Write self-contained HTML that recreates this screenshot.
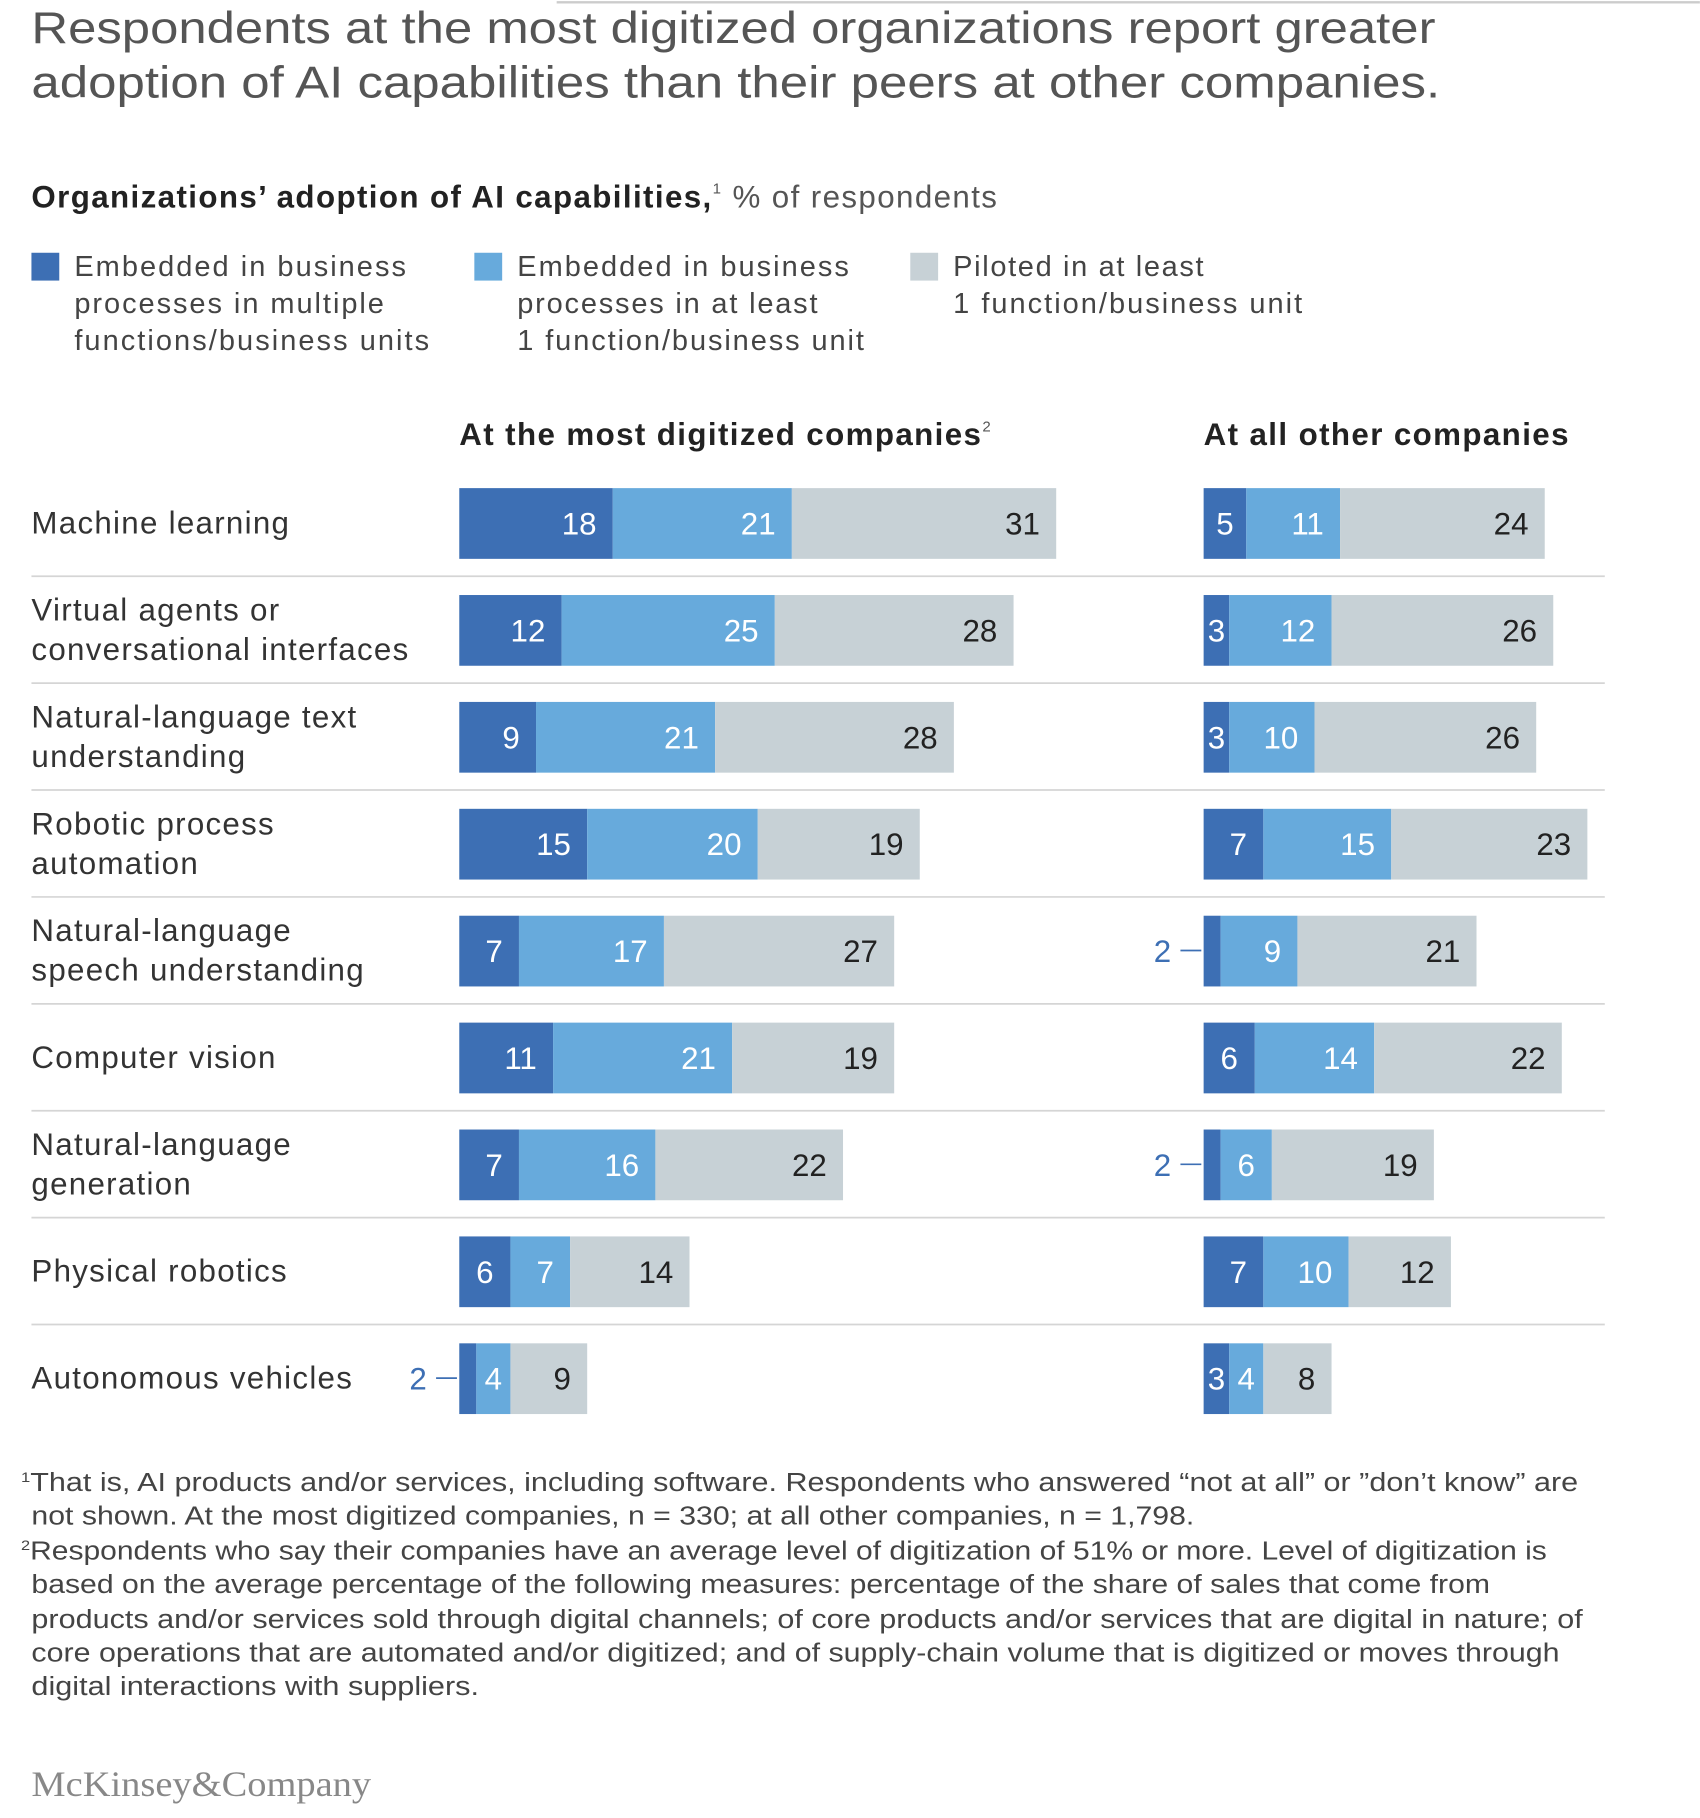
<!DOCTYPE html>
<html><head><meta charset="utf-8"><style>
html,body{margin:0;padding:0;background:#fff;width:1700px;height:1818px;overflow:hidden}
svg{display:block;font-family:"Liberation Sans",Arial,sans-serif}
</style></head><body>
<svg id="chart" width="1700" height="1818" viewBox="0 0 1466 1568" xmlns="http://www.w3.org/2000/svg">
<line x1="480" y1="2" x2="1466" y2="2" stroke="#ccc" stroke-width="2"/>
<text x="27" y="37" font-size="38" fill="#555" textLength="1211" lengthAdjust="spacingAndGlyphs">Respondents at the most digitized organizations report greater</text>
<text x="27" y="84" font-size="38" fill="#555" textLength="1215" lengthAdjust="spacingAndGlyphs">adoption of AI capabilities than their peers at other companies.</text>
<text x="27" y="179" font-size="27" fill="#222" letter-spacing="1.2"><tspan font-weight="bold">Organizations’ adoption of AI capabilities,</tspan><tspan font-size="13" dy="-12" fill="#555">1</tspan><tspan dy="12" fill="#555"> % of respondents</tspan></text>
<g font-size="25" fill="#444" lengthAdjust="spacingAndGlyphs">
<rect x="27" y="218" width="24" height="24" fill="#3d6fb4"/>
<text x="64" y="238" textLength="286">Embedded in business</text><text x="64" y="270" textLength="267">processes in multiple</text><text x="64" y="302" textLength="306">functions/business units</text>
<rect x="409" y="218" width="24" height="24" fill="#67aadc"/>
<text x="446" y="238" textLength="286">Embedded in business</text><text x="446" y="270" textLength="259">processes in at least</text><text x="446" y="302" textLength="299">1 function/business unit</text>
<rect x="785" y="218" width="24" height="24" fill="#c7d1d6"/>
<text x="822" y="238" textLength="216">Piloted in at least</text><text x="822" y="270" textLength="301">1 function/business unit</text>
</g>
<text x="396" y="384" font-size="27" font-weight="bold" fill="#222" letter-spacing="1.2">At the most digitized companies<tspan font-size="13" dy="-12" font-weight="normal" fill="#555">2</tspan></text>
<text x="1038" y="384" font-size="27" font-weight="bold" fill="#222" letter-spacing="1.2">At all other companies</text>
<g id="bars"></g>
<g font-size="22" fill="#444">
<text x="18" y="1286" textLength="1343" lengthAdjust="spacingAndGlyphs"><tspan font-size="12" dy="-8">1</tspan><tspan dy="8">That is, AI products and/or services, including software. Respondents who answered “not at all” or ”don’t know” are</tspan></text>
<text x="27" y="1315" textLength="1003" lengthAdjust="spacingAndGlyphs">not shown. At the most digitized companies, n = 330; at all other companies, n = 1,798.</text>
<text x="18" y="1345" textLength="1316" lengthAdjust="spacingAndGlyphs"><tspan font-size="12" dy="-8">2</tspan><tspan dy="8">Respondents who say their companies have an average level of digitization of 51% or more. Level of digitization is</tspan></text>
<text x="27" y="1374" textLength="1258" lengthAdjust="spacingAndGlyphs">based on the average percentage of the following measures: percentage of the share of sales that come from</text>
<text x="27" y="1404" textLength="1338" lengthAdjust="spacingAndGlyphs">products and/or services sold through digital channels; of core products and/or services that are digital in nature; of</text>
<text x="27" y="1433" textLength="1318" lengthAdjust="spacingAndGlyphs">core operations that are automated and/or digitized; and of supply-chain volume that is digitized or moves through</text>
<text x="27" y="1462" textLength="386" lengthAdjust="spacingAndGlyphs">digital interactions with suppliers.</text>
</g>
<text x="27" y="1549" font-size="31" fill="#888" font-family="Liberation Serif,serif" textLength="293" lengthAdjust="spacingAndGlyphs">McKinsey&amp;Company</text>
</svg>
<script>
const categories=["Machine learning","Virtual agents or|conversational interfaces","Natural-language text|understanding","Robotic process|automation","Natural-language|speech understanding","Computer vision","Natural-language|generation","Physical robotics","Autonomous vehicles"];
const digMultiple=[18,12,9,15,7,11,7,6,2];
const digSingle=[21,25,21,20,17,21,16,7,4];
const digPiloted=[31,28,28,19,27,19,22,14,9];
const othMultiple=[5,3,3,7,2,6,2,7,3];
const othSingle=[11,12,10,15,9,14,6,10,4];
const othPiloted=[24,26,26,23,21,22,19,12,8];
const NS="http://www.w3.org/2000/svg";
const g=document.getElementById('bars');
const unit=7.355,rowTop=421,pitch=92.2,barH=61;
const colors=["#3d6fb4","#67aadc","#c7d1d6"];
const txtCol=["#fff","#fff","#222"];
function xs(panelX,v){return panelX+v*unit;}
function yRow(i){return rowTop+i*pitch;}
function mk(tag,attrs){const e=document.createElementNS(NS,tag);for(const k in attrs)e.setAttribute(k,attrs[k]);g.appendChild(e);return e;}
categories.forEach((c,i)=>{
  const y=yRow(i);
  const lines=c.split('|');
  lines.forEach((l,j)=>{
    const t=mk('text',{x:27,y:y+30+9+(lines.length>1?(j*34-17):0),'font-size':27,fill:'#333','letter-spacing':1.1});
    
    
    t.textContent=l;
  });
  if(i<categories.length-1){
    const ln=mk('line',{x1:27,x2:1384,y1:y+76,y2:y+76,stroke:'#d5d5d5','stroke-width':1.5});
    
    
  }
  [[396,[digMultiple[i],digSingle[i],digPiloted[i]],'digitized'],[1038,[othMultiple[i],othSingle[i],othPiloted[i]],'other']].forEach(([px,vals,nm])=>{
    let cum=0;
    vals.forEach((v,k)=>{
      const x0=xs(px,cum),x1=xs(px,cum+v);cum+=v;
      const r=mk('rect',{x:x0,y:y,width:x1-x0,height:barH,fill:colors[k]});
      
      
      const w=x1-x0;
      let t;
      if(w<19){
        t=mk('text',{x:x0-28,y:y+40,'font-size':27,fill:'#3d6fb4','text-anchor':'end'});
        mk('line',{x1:x0-20,x2:x0-2,y1:y+30,y2:y+30,stroke:'#3d6fb4','stroke-width':1.5});
      }else if(w<45){
        t=mk('text',{x:(x0+x1)/2,y:y+40,'font-size':27,fill:txtCol[k],'text-anchor':'middle'});
      }else{
        t=mk('text',{x:x1-14,y:y+40,'font-size':27,fill:txtCol[k],'text-anchor':'end'});
      }
      
      
      t.textContent=v;
    });
  });
});
</script>
</body></html>
